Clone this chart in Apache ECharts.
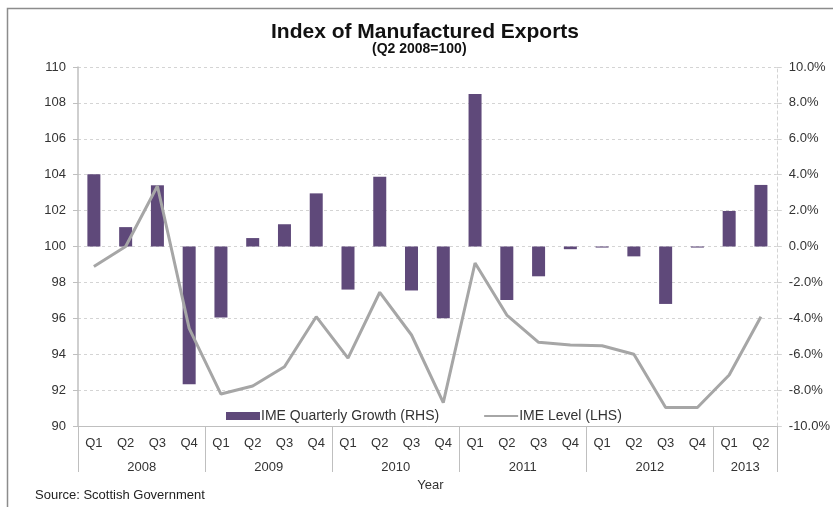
<!DOCTYPE html>
<html>
<head>
<meta charset="utf-8">
<script src="https://cdn.jsdelivr.net/npm/echarts@6/dist/echarts.min.js"></script>
<style>
  html, body { margin: 0; padding: 0; background: #fff; }
  #chart { width: 833px; height: 507px; }
</style>
</head>
<body>
<div id="chart"></div>
<script>
// Quarterly categories, 2008 Q1 to 2013 Q2
const quarters = ['Q1','Q2','Q3','Q4','Q1','Q2','Q3','Q4','Q1','Q2','Q3','Q4',
                  'Q1','Q2','Q3','Q4','Q1','Q2','Q3','Q4','Q1','Q2'];
const yearOf = ['2008','2008','2008','2008','2009','2009','2009','2009','2010','2010','2010','2010',
                '2011','2011','2011','2011','2012','2012','2012','2012','2013','2013'];

// IME quarterly growth, per cent (right-hand scale)
const growth = [4.02, 1.08, 3.41, -7.68, -3.96, 0.47, 1.24, 2.96, -2.40, 3.89, -2.45, -4.00,
                8.50, -2.98, -1.66, -0.15, -0.06, -0.55, -3.20, -0.06, 1.98, 3.43];

// IME level, index Q2 2008 = 100 (left-hand scale)
const level = [98.88, 100.0, 103.37, 95.44, 91.78, 92.23, 93.30, 96.09, 93.78, 97.45, 95.07, 91.30,
               99.08, 96.18, 94.66, 94.51, 94.47, 94.00, 91.03, 91.03, 92.84, 96.09];

const leftTicks = { min: 90, max: 110, step: 2 };
const rightTicks = { min: -10, max: 10, step: 2 };

const font = 'Liberation Sans, Arial, sans-serif';
const textColor = '#333';

// Year groups: first index of each year, and the index whose right edge is the group's middle
const groupStart = yearOf.map((y, i) => i === 0 || yearOf[i - 1] !== y);
const groupBoundary = yearOf.map((y, i) => i === yearOf.length - 1 || yearOf[i + 1] !== y);
const yearLabelIdx = new Set();
(function () {
  let start = 0;
  for (let i = 0; i < yearOf.length; i++) {
    if (groupBoundary[i]) {
      const len = i - start + 1;
      yearLabelIdx.add(start + Math.floor((len - 1) / 2));
      start = i + 1;
    }
  }
})();

const chart = echarts.init(document.getElementById('chart'), null, { renderer: 'canvas' });

chart.setOption({
  animation: false,
  backgroundColor: '#fff',
  textStyle: { fontFamily: font },
  title: [
    {
      text: 'Index of Manufactured Exports',
      left: 266, top: 17,
      textStyle: { fontFamily: font, fontSize: 21, fontWeight: 'bold', color: '#111' }
    },
    {
      text: '(Q2 2008=100)',
      left: 367, top: 37,
      textStyle: { fontFamily: font, fontSize: 14, fontWeight: 'bold', color: '#111' }
    },
    {
      text: 'Source: Scottish Government',
      left: 30, top: 484,
      textStyle: { fontFamily: font, fontSize: 13, fontWeight: 'normal', color: '#222' }
    }
  ],
  graphic: [
    {
      type: 'rect',
      shape: { x: 7.5, y: 8.5, width: 900, height: 600 },
      style: { fill: 'none', stroke: '#8c8c8c', lineWidth: 1.5 },
      silent: true
    }
  ],
  legend: {
    left: 221, top: 404,
    itemWidth: 34, itemHeight: 8, itemGap: 44,
    textStyle: { fontFamily: font, fontSize: 14, color: textColor, padding: [0, 0, 0, -4] },
    data: [
      { name: 'IME Quarterly Growth (RHS)', icon: 'rect' },
      { name: 'IME Level (LHS)', itemStyle: { opacity: 0 } }
    ]
  },
  grid: { left: 78, right: 56, top: 67, bottom: 81, containLabel: false },
  xAxis: [
    {
      type: 'category',
      data: quarters,
      boundaryGap: true,
      axisLine: { show: true, onZero: false, lineStyle: { color: '#bfbfbf', width: 1 } },
      axisTick: {
        show: true,
        length: 46,
        interval: (idx) => groupStart[idx],
        lineStyle: { color: '#bfbfbf', width: 1 }
      },
      axisLabel: { interval: 0, fontFamily: font, fontSize: 13, color: textColor, margin: 11 },
      splitLine: { show: false }
    },
    {
      type: 'category',
      data: yearOf,
      position: 'bottom',
      offset: 24,
      boundaryGap: true,
      axisLine: { show: false, onZero: false },
      axisTick: { show: false },
      axisLabel: {
        interval: (idx) => yearLabelIdx.has(idx),
        fontFamily: font, fontSize: 13, color: textColor, margin: 11,
        padding: [0, 0, 0, 32]
      },
      name: 'Year',
      nameLocation: 'middle',
      nameGap: 29,
      nameTextStyle: { fontFamily: font, fontSize: 13, color: textColor, padding: [0, 0, 0, 6] }
    }
  ],
  yAxis: [
    {
      type: 'value',
      position: 'left',
      min: leftTicks.min, max: leftTicks.max, interval: leftTicks.step,
      axisLine: { show: true, lineStyle: { color: '#bfbfbf', width: 1.5 } },
      axisTick: { show: true, length: 5, lineStyle: { color: '#bfbfbf' } },
      axisLabel: { fontFamily: font, fontSize: 13, color: textColor, margin: 12 },
      splitLine: { show: true, lineStyle: { color: '#d4d4d4', type: [3, 3], width: 1 } }
    },
    {
      type: 'value',
      position: 'right',
      min: rightTicks.min, max: rightTicks.max, interval: rightTicks.step,
      axisLine: { show: true, lineStyle: { color: '#d4d4d4', type: [3, 3], width: 1 } },
      axisTick: { show: true, length: 5, lineStyle: { color: '#d4d4d4' } },
      axisLabel: {
        fontFamily: font, fontSize: 13, color: textColor, margin: 12,
        formatter: (v) => v.toFixed(1) + '%'
      },
      splitLine: { show: false }
    }
  ],
  series: [
    {
      name: 'IME Quarterly Growth (RHS)',
      type: 'bar',
      xAxisIndex: 0,
      yAxisIndex: 1,
      data: growth,
      barWidth: 13,
      itemStyle: { color: '#5f497a' }
    },
    {
      name: 'IME Level (LHS)',
      type: 'line',
      xAxisIndex: 0,
      yAxisIndex: 0,
      data: level,
      symbol: 'none',
      lineStyle: { color: '#a6a6a6', width: 3 },
      itemStyle: { color: '#a6a6a6' },
      z: 3
    }
  ]
});
</script>
</body>
</html>
